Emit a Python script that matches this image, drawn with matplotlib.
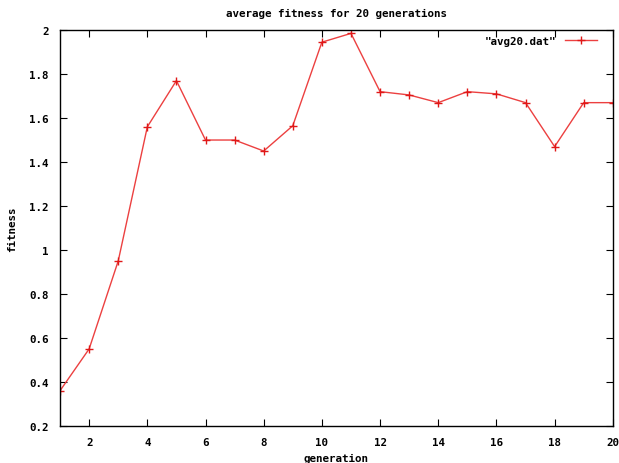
import matplotlib
matplotlib.use("Agg")
import matplotlib.pyplot as plt

generation = list(range(1, 21))
fitness = [0.36, 0.55, 0.95, 1.56, 1.77, 1.50, 1.50, 1.45, 1.565, 1.945,
           1.985, 1.72, 1.705, 1.67, 1.72, 1.71, 1.67, 1.47, 1.67, 1.67]
xticks = [2, 4, 6, 8, 10, 12, 14, 16, 18, 20]
yticks = [0.2, 0.4, 0.6, 0.8, 1.0, 1.2, 1.4, 1.6, 1.8, 2.0]
ylabels = ["0.2", "0.4", "0.6", "0.8", "1", "1.2", "1.4", "1.6", "1.8", "2"]

plt.rcParams['font.family'] = 'DejaVu Sans Mono'
plt.rcParams['font.weight'] = 'bold'
plt.rcParams['font.size'] = 7.8

fig = plt.figure(figsize=(6.19, 4.64), dpi=100)
ax = fig.add_axes([0.097, 0.080, 0.893, 0.853])

ax.plot(generation, fitness, color='#ec4040', lw=1.0, marker='+', ms=5.5,
        mew=1.0, mec='#e01818', label='"avg20.dat"')

ax.set_xlim(1, 20)
ax.set_ylim(0.2, 2.0)
ax.set_xticks(xticks)
ax.set_yticks(yticks)
ax.set_yticklabels(ylabels)
ax.tick_params(direction='in', top=True, right=True, length=5, width=0.8, pad=8)
for s in ax.spines.values():
    s.set_linewidth(1.0)

ax.set_title('average fitness for 20 generations', fontsize=7.8, fontweight='bold', pad=10)
ax.set_xlabel('generation', fontweight='bold', labelpad=4)
ax.set_ylabel('fitness', fontweight='bold', labelpad=9)

leg = ax.legend(loc='upper right', bbox_to_anchor=(0.986, 1.005), frameon=False,
                markerfirst=False, handlelength=3.0, borderaxespad=0.3,
                handletextpad=0.8)

fig.savefig('out.png', dpi=100)
